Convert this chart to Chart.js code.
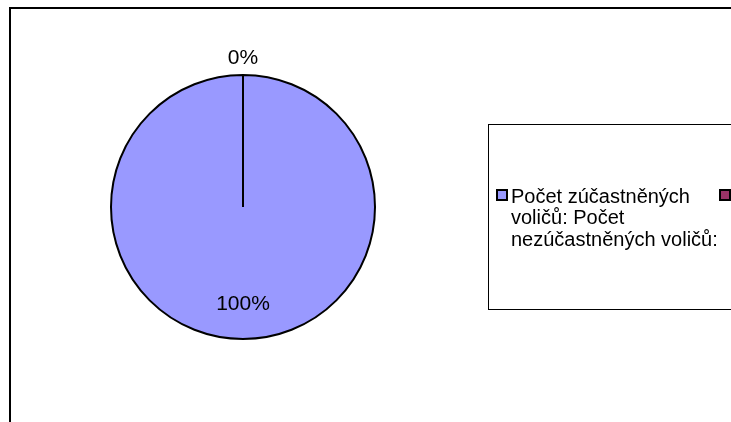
<!DOCTYPE html>
<html>
<head>
<meta charset="utf-8">
<script src="https://cdn.jsdelivr.net/npm/chart.js@4"></script>
<style>
  html, body { margin: 0; padding: 0; background: #fff; }
  #wrap { width: 731px; height: 422px; position: relative; }
</style>
</head>
<body>
<div id="wrap"><canvas id="pie" width="731" height="422"></canvas></div>
<script>
// --- data ---
const labels = ['Počet zúčastněných voličů:', 'Počet nezúčastněných voličů:'];
const values = [100, 0];
const colors = ['#9999FF', '#993366'];

const PCT_FONT = '21px "Liberation Sans", Arial, sans-serif';
const LEG_FONT = '20px "Liberation Sans", Arial, sans-serif';

// draws the outer frame of the chart
const framePlugin = {
  id: 'frame',
  beforeDraw(chart) {
    const ctx = chart.ctx;
    ctx.save();
    ctx.fillStyle = '#fff';
    ctx.fillRect(0, 0, chart.width, chart.height);
    ctx.strokeStyle = '#000';
    ctx.lineWidth = 2;
    ctx.strokeRect(10, 8, chart.width + 20, chart.height + 20);
    ctx.restore();
  }
};

// percentage labels: 0% outside on top, 100% inside
const pctPlugin = {
  id: 'pct',
  afterDatasetsDraw(chart) {
    const ctx = chart.ctx;
    const meta = chart.getDatasetMeta(0);
    const total = values.reduce((a, b) => a + b, 0);
    ctx.save();
    ctx.font = PCT_FONT;
    ctx.fillStyle = '#000';
    ctx.textAlign = 'center';
    ctx.textBaseline = 'middle';
    meta.data.forEach((arc, i) => {
      const p = arc.getProps(['x', 'y', 'startAngle', 'endAngle', 'outerRadius'], true);
      const mid = (p.startAngle + p.endAngle) / 2;
      const pct = Math.round(values[i] / total * 100);
      const r = pct === 0 ? p.outerRadius + 17 : p.outerRadius * 0.74;
      ctx.fillText(pct + '%', p.x + Math.cos(mid) * r, p.y + Math.sin(mid) * r);
    });
    ctx.restore();
  }
};

// legend box like the original (text wraps across both entries)
const legendPlugin = {
  id: 'boxLegend',
  afterDraw(chart) {
    const ctx = chart.ctx;
    ctx.save();
    ctx.strokeStyle = '#000';
    ctx.lineWidth = 1;
    ctx.strokeRect(488.5, 124.5, 300, 185);

    ctx.font = LEG_FONT;
    const words = labels.join(' ').split(' ');
    const maxW = 225;
    const lines = [];
    let cur = '';
    words.forEach(w => {
      const test = cur ? cur + ' ' + w : w;
      if (ctx.measureText(test).width > maxW && cur) {
        lines.push(cur);
        cur = w;
      } else {
        cur = test;
      }
    });
    if (cur) lines.push(cur);

    ctx.fillStyle = '#000';
    ctx.textAlign = 'left';
    ctx.textBaseline = 'middle';
    lines.forEach((l, i) => ctx.fillText(l, 511, 197 + i * 21.5));

    // markers
    const mx = [497, 720];
    colors.forEach((c, i) => {
      ctx.fillStyle = c;
      ctx.fillRect(mx[i], 190, 10, 10);
      ctx.strokeStyle = '#000';
      ctx.lineWidth = 2;
      ctx.strokeRect(mx[i], 190, 10, 10);
    });
    ctx.restore();
  }
};

new Chart(document.getElementById('pie'), {
  type: 'pie',
  data: {
    labels: labels,
    datasets: [{
      data: values,
      backgroundColor: colors,
      borderColor: '#000',
      borderWidth: 2
    }]
  },
  options: {
    responsive: false,
    animation: false,
    layout: { padding: { left: 110, right: 355, top: 74, bottom: 82 } },
    plugins: {
      legend: { display: false },
      tooltip: { enabled: false }
    }
  },
  plugins: [framePlugin, pctPlugin, legendPlugin]
});
</script>
</body>
</html>
